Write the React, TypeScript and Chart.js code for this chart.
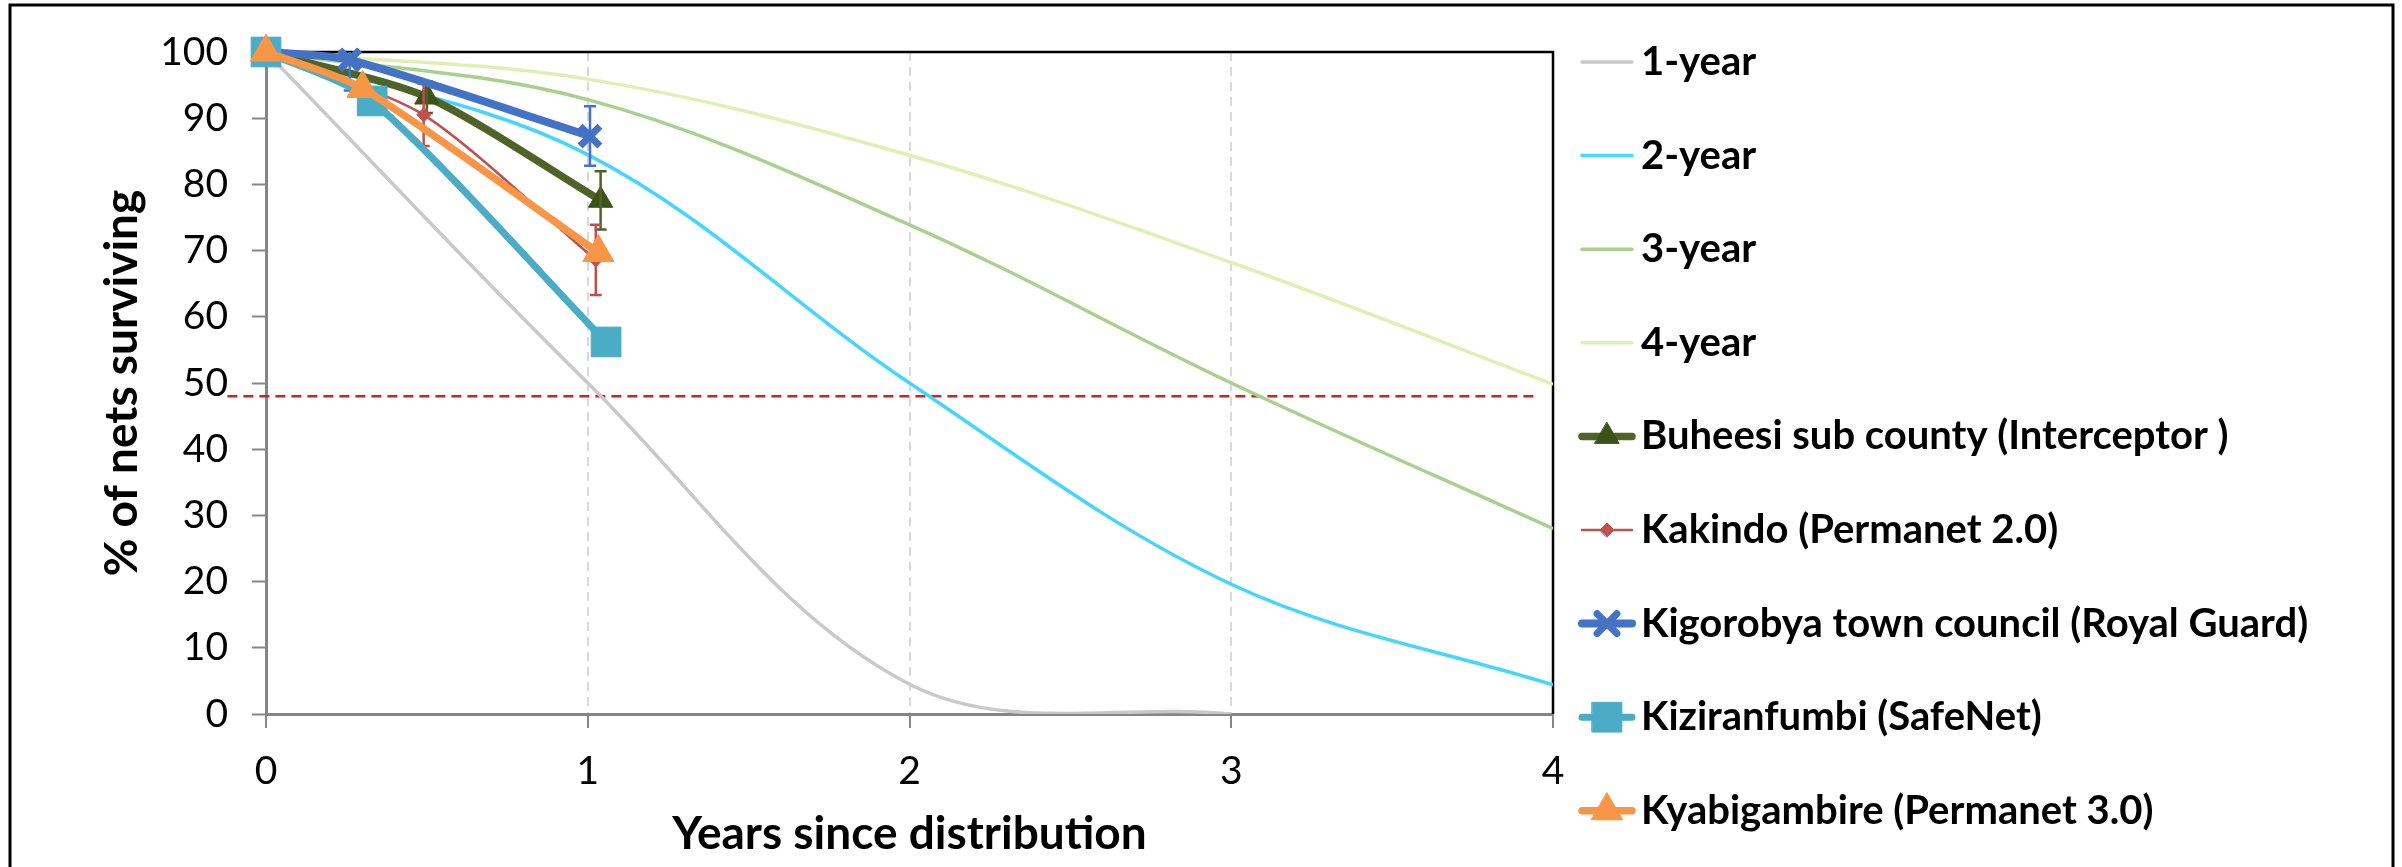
import React, { useEffect, useRef } from 'react';
import { Chart, registerables } from 'chart.js';
import { drawPoint } from 'chart.js/helpers';

Chart.register(...registerables);

// ---------- data ----------
const years = [0, 1, 2, 3, 4];
const xTicks = [0, 1, 2, 3, 4];
const yTicks = [0, 10, 20, 30, 40, 50, 60, 70, 80, 90, 100];

const oneYear = [100, 50, 4.5, 0];
const twoYear = [100, 84.5, 50, 19.6, 4.4];
const threeYear = [100, 92.8, 73.9, 50, 28];
const fourYear = [100, 95.9, 84.4, 68.2, 49.8];

const buheesiX = [0, 0.5, 1.04];
const buheesiY = [100, 93.2, 77.6];
const buheesiErr = [0, 2.4, 4.4];

const kakindoX = [0, 0.49, 1.025];
const kakindoY = [100, 90.5, 68.6];
const kakindoErr = [0, 4.7, 5.3];

const kigorobyaX = [0, 0.26, 1.007];
const kigorobyaY = [100, 98.8, 87.3];
const kigorobyaErr = [0, 4.6, 4.5];

const kiziranfumbiX = [0, 0.33, 1.057];
const kiziranfumbiY = [100, 92.6, 56.2];

const kyabigambireX = [0, 0.3, 1.033];
const kyabigambireY = [100, 94.5, 69.7];

const thresholdX = [-0.12, 3.95];
const thresholdY = [48, 48];

const seriesLabels = [
  '1-year',
  '2-year',
  '3-year',
  '4-year',
  'Buheesi sub county (Interceptor )',
  'Kakindo (Permanet 2.0)',
  'Kigorobya town council (Royal Guard)',
  'Kiziranfumbi (SafeNet)',
  'Kyabigambire (Permanet 3.0)',
];

const xTitle = 'Years since distribution';
const yTitle = '% of nets surviving';

// ---------- helpers ----------
const pts = (xs: number[], ys: number[]) => ys.map((y, i) => ({ x: xs[i], y }));

const W = 2402;
const H = 867;
const PLOT_LEFT = 266;
const PLOT_RIGHT = 1553;
const PLOT_TOP = 52;
const PLOT_BOTTOM = 714;
const FONT = 'Lato, "Open Sans", sans-serif';

const curve = (label: string, data: number[], color: string, order: number, cap = true) => ({
  label,
  data: pts(years, data),
  borderColor: color,
  backgroundColor: color,
  borderWidth: 3.5,
  pointRadius: 0,
  tension: 0.35,
  capBezierPoints: cap,
  order,
  inLegend: true,
});

const markerSeries = (
  label: string,
  xs: number[],
  ys: number[],
  color: string,
  markerColor: string,
  width: number,
  style: string,
  radius: number,
  pbw: number,
  order: number,
  errs?: number[],
  legendRadius?: number
) => ({
  label,
  data: pts(xs, ys),
  borderColor: color,
  backgroundColor: markerColor,
  borderWidth: width,
  pointStyle: style,
  pointRadius: radius,
  pointHoverRadius: radius,
  pointBackgroundColor: markerColor,
  pointBorderColor: markerColor,
  pointBorderWidth: pbw,
  tension: 0.25,
  clip: false,
  order,
  inLegend: true,
  errors: errs,
  errorColor: color,
  legendRadius: legendRadius ?? radius,
});

// ---------- plugins ----------
const framePlugin = {
  id: 'frame',
  beforeDraw(chart: any) {
    const ctx = chart.ctx;
    ctx.save();
    ctx.fillStyle = '#fff';
    ctx.fillRect(0, 0, W, H);
    ctx.strokeStyle = '#000';
    ctx.lineWidth = 3;
    ctx.strokeRect(10, 5, 2383, 900);
    ctx.restore();
  },
  beforeDatasetsDraw(chart: any) {
    const ctx = chart.ctx;
    const a = chart.chartArea;
    ctx.save();
    ctx.strokeStyle = '#000';
    ctx.lineWidth = 2.5;
    ctx.beginPath();
    ctx.moveTo(a.left, a.top);
    ctx.lineTo(a.right, a.top);
    ctx.lineTo(a.right, a.bottom);
    ctx.stroke();
    ctx.restore();
  },
};

const errorBarPlugin = {
  id: 'errorBars',
  afterDatasetDraw(chart: any, args: any) {
    const ds = chart.data.datasets[args.index];
    const errs: number[] | undefined = ds.errors;
    if (!errs) return;
    const ctx = chart.ctx;
    const ys = chart.scales.y;
    const a = chart.chartArea;
    ctx.save();
    ctx.beginPath();
    ctx.rect(a.left - 20, a.top, a.right - a.left + 40, a.bottom - a.top);
    ctx.clip();
    ctx.strokeStyle = ds.errorColor;
    ctx.lineWidth = 2.5;
    args.meta.data.forEach((el: any, i: number) => {
      const e = errs[i];
      if (!e) return;
      const v = ds.data[i].y;
      const yt = ys.getPixelForValue(v + e);
      const yb = ys.getPixelForValue(v - e);
      ctx.beginPath();
      ctx.moveTo(el.x, yt);
      ctx.lineTo(el.x, yb);
      ctx.moveTo(el.x - 6, yt);
      ctx.lineTo(el.x + 6, yt);
      ctx.moveTo(el.x - 6, yb);
      ctx.lineTo(el.x + 6, yb);
      ctx.stroke();
    });
    ctx.restore();
  },
};

const legendPlugin = {
  id: 'sideLegend',
  afterDraw(chart: any) {
    const ctx = chart.ctx;
    const items = chart.data.datasets.filter((d: any) => d.inLegend);
    const top = 62;
    const step = 93.6;
    items.forEach((ds: any, i: number) => {
      const y = top + i * step;
      ctx.save();
      ctx.strokeStyle = ds.borderColor;
      ctx.lineWidth = ds.borderWidth;
      ctx.lineCap = 'round';
      ctx.beginPath();
      ctx.moveTo(1582, y);
      ctx.lineTo(1632, y);
      ctx.stroke();
      if (ds.pointRadius > 0) {
        ctx.fillStyle = ds.pointBackgroundColor;
        ctx.strokeStyle = ds.pointBorderColor;
        ctx.lineWidth = ds.pointBorderWidth;
        drawPoint(
          ctx,
          {
            pointStyle: ds.pointStyle,
            radius: ds.legendRadius,
            borderWidth: ds.pointBorderWidth,
            rotation: 0,
          } as any,
          1607,
          y
        );
      }
      ctx.fillStyle = '#000';
      ctx.font = `bold 40px ${FONT}`;
      ctx.textBaseline = 'middle';
      ctx.textAlign = 'left';
      ctx.fillText(ds.label, 1641, y);
      ctx.restore();
    });
  },
};

export default function App() {
  const ref = useRef<HTMLCanvasElement | null>(null);

  useEffect(() => {
    if (!ref.current) return;
    const datasets: any[] = [
      curve(seriesLabels[0], oneYear, '#c9c9c9', 10, false),
      curve(seriesLabels[1], twoYear, '#45d6ff', 9),
      curve(seriesLabels[2], threeYear, '#a9d18e', 8),
      curve(seriesLabels[3], fourYear, '#e2efb4', 7),
      markerSeries(seriesLabels[4], buheesiX, buheesiY, '#4f6228', '#3b5219', 7.5, 'triangle', 14, 1, 6, buheesiErr),
      markerSeries(seriesLabels[5], kakindoX, kakindoY, '#c0504d', '#c0504d', 2.5, 'rectRot', 7, 1, 5, kakindoErr),
      markerSeries(seriesLabels[6], kigorobyaX, kigorobyaY, '#4472c4', '#4472c4', 8, 'crossRot', 14, 7, 4, kigorobyaErr),
      markerSeries(seriesLabels[7], kiziranfumbiX, kiziranfumbiY, '#4bacc6', '#4bacc6', 7, 'rect', 21, 1, 3),
      markerSeries(seriesLabels[8], kyabigambireX, kyabigambireY, '#f79646', '#f79646', 7.5, 'triangle', 18, 1, 2),
      {
        label: 'threshold',
        data: pts(thresholdX, thresholdY),
        borderColor: '#d42020',
        borderWidth: 2.5,
        borderDash: [10, 6],
        pointRadius: 0,
        tension: 0,
        clip: false,
        order: 20,
        inLegend: false,
      },
    ];

    const chart = new Chart(ref.current, {
      type: 'line',
      data: { datasets },
      plugins: [framePlugin, errorBarPlugin, legendPlugin],
      options: {
        animation: false,
        responsive: false,
        devicePixelRatio: 1,
        events: [],
        layout: { padding: { left: 0, right: W - PLOT_RIGHT, top: PLOT_TOP, bottom: 0 } },
        plugins: {
          legend: { display: false },
          tooltip: { enabled: false },
        },
        scales: {
          x: {
            type: 'linear',
            min: xTicks[0],
            max: xTicks[xTicks.length - 1],
            afterBuildTicks: (s: any) => {
              s.ticks = xTicks.map((v) => ({ value: v }));
            },
            afterFit: (s: any) => {
              s.height = H - PLOT_BOTTOM;
            },
            ticks: {
              color: '#000',
              font: { family: FONT, size: 39 },
              padding: 20,
              maxRotation: 0,
            },
            grid: {
              color: (c: any) =>
                c.tick && (c.tick.value === 0 || c.tick.value === 4) ? 'rgba(0,0,0,0)' : '#d9d9d9',
              lineWidth: 2,
              tickColor: '#868686',
              tickLength: 14,
              tickWidth: 2,
            },
            border: { color: '#868686', width: 3, dash: [9, 6] },
            title: {
              display: true,
              text: xTitle,
              color: '#000',
              font: { family: FONT, size: 46, weight: 'bold' },
              padding: { top: 0, bottom: 5 },
            },
          },
          y: {
            type: 'linear',
            min: yTicks[0],
            max: yTicks[yTicks.length - 1],
            afterBuildTicks: (s: any) => {
              s.ticks = yTicks.map((v) => ({ value: v }));
            },
            afterFit: (s: any) => {
              s.width = PLOT_LEFT;
            },
            ticks: {
              color: '#000',
              font: { family: FONT, size: 39 },
              padding: 24,
            },
            grid: {
              drawOnChartArea: false,
              tickColor: '#868686',
              tickLength: 14,
              tickWidth: 2,
            },
            border: { color: '#868686', width: 3 },
            title: {
              display: true,
              text: yTitle,
              color: '#000',
              font: { family: FONT, size: 46, weight: 'bold' },
              padding: { top: 95, bottom: 0 },
            },
          },
        },
      } as any,
    });
    return () => chart.destroy();
  }, []);

  return (
    <div style={{ position: 'fixed', left: 0, top: 0, width: W, height: H, background: '#fff' }}>
      <canvas ref={ref} width={W} height={H} style={{ display: 'block', width: W, height: H }} />
    </div>
  );
}
